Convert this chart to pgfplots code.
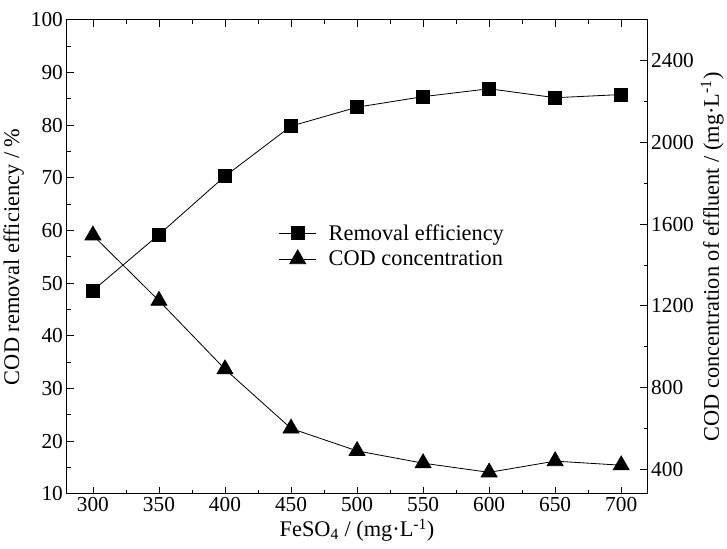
\documentclass[border=0pt]{standalone}
\usepackage{fontspec}
\setmainfont{Liberation Serif}
\usepackage{pgfplots}
\pgfplotsset{compat=1.18}

\pgfplotsset{
  common/.style={
    scale only axis, width=570bp, height=465bp,
    xmin=280, xmax=720,
    tick align=inside,
    major tick length=7bp, minor tick length=4bp,
    every tick/.style={black, line width=0.8bp},
    axis line style={line width=0.8bp},
    tick label style={font=\fontsize{21}{24}\selectfont},
    label style={font=\fontsize{22}{26}\selectfont},
    /pgf/number format/assume math mode=true,
    /pgf/number format/1000 sep={},
  },
}

\begin{document}
\begin{tikzpicture}
\begin{axis}[
  common,
  axis y line*=left,
  ymin=10, ymax=100,
  xtick={300,350,...,700}, minor x tick num=1,
  ytick={10,20,...,100}, minor y tick num=1,
  xlabel={FeSO\textsubscript{4} / (mg·L\textsuperscript{-1})},
  ylabel={COD removal efficiency / \%},
]
\addplot[black, line width=0.8bp, mark=square*, mark size=6.3bp] coordinates {
(300,48.6) (350,59.2) (400,70.3) (450,79.8) (500,83.4)
(550,85.4) (600,86.9) (650,85.2) (700,85.8)
};
\end{axis}

\begin{axis}[
  common,
  axis y line*=right, axis x line=none,
  ymin=280, ymax=2600,
  ytick={400,800,...,2400}, minor y tick num=1,
  ylabel={COD concentration of effluent / (mg·L\textsuperscript{-1})},
  legend style={draw=none, fill=none, font=\fontsize{22}{26}\selectfont,
    at={(rel axis cs:0.36,0.577)}, anchor=north west,
    row sep=5bp},
  legend cell align=left,
  legend image code/.code={
    \draw[mark repeat=2, mark phase=2] plot coordinates {(0bp,0bp) (18bp,0bp) (36bp,0bp)};
    \path (46bp,0bp);
  },
]
\addlegendimage{black, line width=0.8bp, mark=square*, mark size=6.3bp}
\addlegendentry{Removal efficiency}
\addplot[black, line width=0.8bp, mark=triangle*, mark size=9bp] coordinates {
(300,1545) (350,1225) (400,890) (450,600) (500,490)
(550,430) (600,385) (650,440) (700,420)
};
\addlegendentry{COD concentration}
\end{axis}
\path ([yshift=9bp]current bounding box.north) -- ([yshift=-3bp]current bounding box.south);
\end{tikzpicture}
\end{document}
